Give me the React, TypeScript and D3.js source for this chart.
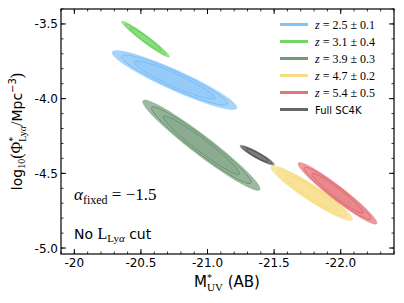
import React from 'react';
import * as d3 from 'd3';

// posterior contours of (M*_UV, log Phi*) per redshift slice, given as the two ends of the major axis
const labels = ['2.5 ± 0.1', '3.1 ± 0.4', '3.9 ± 0.3', '4.7 ± 0.2', '5.4 ± 0.5', 'Full SC4K'];
const colors = ['#6cb8f6', '#5ccf4f', '#5b8a62', '#f5d76e', '#e05a60', '#4a4a4a'];
const endA_M = [-20.285, -20.356, -20.516, -21.477, -21.682, -21.244];
const endA_Phi = [-3.688, -3.483, -4.014, -4.454, -4.431, -4.315];
const endB_M = [-21.219, -20.713, -21.392, -22.087, -22.27, -21.501];
const endB_Phi = [-4.063, -3.721, -4.61, -4.811, -4.837, -4.442];
const axisRatio = [0.145, 0.12, 0.13, 0.16, 0.14, 0.16];
const levels = [1, 0.85, 0.65];

const xTicks = [-20, -20.5, -21, -21.5, -22];
const yTicks = [-3.5, -4.0, -4.5, -5.0];

const W = 404;
const H = 303;
const PLOT = { left: 61, right: 394, top: 9, bottom: 254 };

const App = () => {
    const x = d3.scaleLinear().domain([-19.9, -22.4]).range([PLOT.left, PLOT.right]);
    const y = d3.scaleLinear().domain([-5.04, -3.4]).range([PLOT.bottom, PLOT.top]);

    const line = d3.line<[number, number]>().curve(d3.curveLinearClosed);

    const ellipse = (i: number, s: number) => {
        const ax = x(endA_M[i]), ay = y(endA_Phi[i]);
        const bx = x(endB_M[i]), by = y(endB_Phi[i]);
        const cx = (ax + bx) / 2, cy = (ay + by) / 2;
        const a = Math.hypot(bx - ax, by - ay) / 2;
        const ux = (bx - ax) / 2 / a, uy = (by - ay) / 2 / a;
        const b = axisRatio[i] * a;
        const pts: [number, number][] = d3.range(0, 2 * Math.PI, Math.PI / 60).map(t => [
            cx + s * (a * Math.cos(t) * ux - b * Math.sin(t) * uy),
            cy + s * (a * Math.cos(t) * uy + b * Math.sin(t) * ux),
        ]);
        return line(pts)!;
    };

    const xMinor = d3.range(-19.9, -22.41, -0.1).map(v => +v.toFixed(1));
    const yMinor = d3.range(-3.4, -5.041, -0.1).map(v => +v.toFixed(1));
    const sans = 'DejaVu Sans, sans-serif';
    const serif = 'Liberation Serif, serif';

    return (
        <svg width={W} height={H} style={{ position: 'absolute', left: 0, top: 0, background: '#fff' }}>
            {/* contours */}
            {labels.map((_, i) => (
                <g key={i}>
                    {levels.map((s, k) => (
                        <path key={k} d={ellipse(i, s)} fill={colors[i]}
                            fillOpacity={k === 0 ? 0.6 : 0.15}
                            stroke={colors[i]} strokeOpacity={k === 0 ? 0.4 : 1} strokeWidth={0.8} />
                    ))}
                </g>
            ))}

            {/* ticks, all four sides, pointing in */}
            {xMinor.map(v => (
                <g key={'xm' + v} stroke="#000" strokeWidth={0.8}>
                    <line x1={x(v)} x2={x(v)} y1={PLOT.bottom} y2={PLOT.bottom - 2.5} />
                    <line x1={x(v)} x2={x(v)} y1={PLOT.top} y2={PLOT.top + 2.5} />
                </g>
            ))}
            {yMinor.map(v => (
                <g key={'ym' + v} stroke="#000" strokeWidth={0.8}>
                    <line x1={PLOT.left} x2={PLOT.left + 2.5} y1={y(v)} y2={y(v)} />
                    <line x1={PLOT.right} x2={PLOT.right - 2.5} y1={y(v)} y2={y(v)} />
                </g>
            ))}
            {xTicks.map((v, i) => (
                <g key={'x' + v}>
                    <line x1={x(v)} x2={x(v)} y1={PLOT.bottom} y2={PLOT.bottom - 5} stroke="#000" />
                    <line x1={x(v)} x2={x(v)} y1={PLOT.top} y2={PLOT.top + 5} stroke="#000" />
                    <text x={x(v)} y={PLOT.bottom + 13} textAnchor="middle" fontFamily={sans} fontSize={12}>
                        {i === 0 ? '-' + Math.abs(v) : '-' + Math.abs(v).toFixed(1)}
                    </text>
                </g>
            ))}
            {yTicks.map(v => (
                <g key={'y' + v}>
                    <line x1={PLOT.left} x2={PLOT.left + 5} y1={y(v)} y2={y(v)} stroke="#000" />
                    <line x1={PLOT.right} x2={PLOT.right - 5} y1={y(v)} y2={y(v)} stroke="#000" />
                    <text x={PLOT.left - 3} y={y(v) + 4.5} textAnchor="end" fontFamily={sans} fontSize={12}>
                        {'-' + Math.abs(v).toFixed(1)}
                    </text>
                </g>
            ))}
            <rect x={PLOT.left} y={PLOT.top} width={PLOT.right - PLOT.left} height={PLOT.bottom - PLOT.top}
                fill="none" stroke="#000" strokeWidth={1.2} />

            {/* legend */}
            {labels.map((lab, i) => (
                <g key={'l' + i} transform={`translate(280,${24.5 + i * 17})`}>
                    <line x1={0} x2={28} y1={0} y2={0} stroke={colors[i]} strokeOpacity={0.85} strokeWidth={3} />
                    {i < 5 ? (
                        <text x={35} y={4} fontFamily={serif} fontSize={12}>
                            <tspan fontStyle="italic">z</tspan> = {lab}
                        </text>
                    ) : (
                        <text x={35} y={4} fontFamily={sans} fontSize={10}>{lab}</text>
                    )}
                </g>
            ))}

            {/* annotations */}
            <text x={74} y={200} fontFamily={serif} fontSize={17}>
                <tspan fontStyle="italic">α</tspan>
                <tspan fontSize={12} dy={4}>fixed</tspan>
                <tspan dy={-4}> = −1.5</tspan>
            </text>
            <text x={74} y={239} fontFamily={sans} fontSize={14}>
                No <tspan fontFamily={serif} fontSize={16}>L</tspan>
                <tspan fontFamily={serif} fontSize={11} dy={3}>Ly<tspan fontStyle="italic">α</tspan></tspan>
                <tspan dy={-3}> cut</tspan>
            </text>

            {/* axis labels */}
            <text x={227} y={287} textAnchor="middle" fontFamily={sans} fontSize={15}>
                M<tspan fontSize={10} dy={-6} fontFamily={serif}>*</tspan>
                <tspan fontSize={11} dx={-5} dy={10} fontFamily={serif}>UV</tspan>
                <tspan dy={-4}> (AB)</tspan>
            </text>
            <text transform={`translate(22,${(PLOT.top + PLOT.bottom) / 2}) rotate(-90)`} textAnchor="middle"
                fontFamily={sans} fontSize={14}>
                log<tspan fontSize={10} dy={3} fontFamily={serif}>10</tspan>
                <tspan dy={-3} fontFamily={serif} fontSize={16}>(Φ</tspan>
                <tspan fontSize={10} dy={-6} fontFamily={serif}>*</tspan>
                <tspan fontSize={10} dx={-5} dy={10} fontFamily={serif}>Ly<tspan fontStyle="italic">α</tspan></tspan>
                <tspan dy={-4} fontFamily={serif} fontSize={16}>/</tspan>
                <tspan>Mpc</tspan>
                <tspan fontSize={10} dy={-6}>−3</tspan>
                <tspan dy={6} fontFamily={serif} fontSize={16}>)</tspan>
            </text>
        </svg>
    );
};

export default App;
